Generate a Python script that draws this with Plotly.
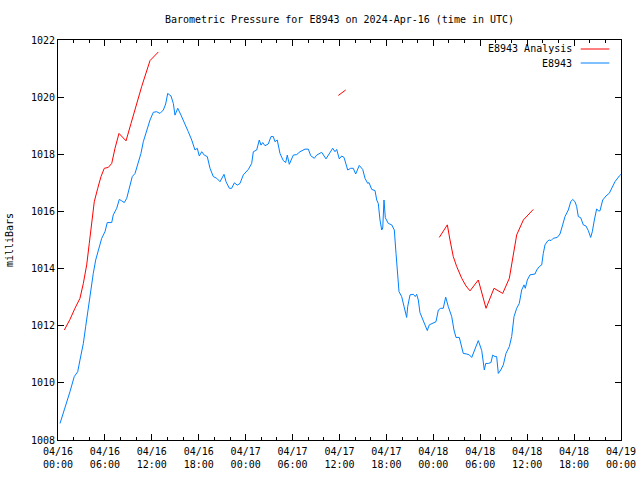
import pandas as pd
import plotly.graph_objects as go

BASE = pd.Timestamp("2024-04-16 00:00")

# E8943 observed pressure (hours since 2024-04-16 00:00 UTC, mbar)
obs_hours = [0.26, 0.90, 1.53, 2.08, 2.52, 2.81, 3.24, 3.54, 3.87, 4.18, 4.51, 4.82, 5.15, 5.59,
             6.01, 6.30, 6.87, 7.07, 7.51, 7.84, 8.15, 8.48, 8.79, 9.08, 9.50, 9.85, 10.27, 10.61,
             10.91, 11.34, 11.77, 12.19, 12.62, 13.04, 13.47, 13.77, 14.03, 14.45, 14.75, 14.96,
             15.31, 15.73, 16.24, 16.66, 17.10, 17.52, 17.81, 18.07, 18.38, 18.71, 19.09, 19.44,
             19.86, 20.30, 20.72, 21.23, 21.49, 21.91, 22.21, 22.55, 22.93, 23.28, 23.70, 24.34,
             24.77, 24.98, 25.41, 25.74, 25.96, 26.18, 26.47, 26.89, 27.24, 27.53, 27.75, 28.04,
             28.39, 28.81, 29.12, 29.32, 29.58, 29.89, 30.09, 30.53, 30.95, 31.59, 32.01, 32.32,
             32.78, 33.08, 33.72, 34.27, 34.79, 35.13, 35.42, 35.64, 35.97, 36.28, 36.58, 37.05,
             37.43, 37.76, 38.07, 38.53, 38.97, 39.26, 39.61, 39.77, 40.12, 40.54, 40.76, 40.96,
             41.18, 41.40, 41.53, 41.69, 41.86, 42.24, 42.68, 43.01, 43.23, 43.39, 43.61, 43.95,
             44.16, 44.38, 44.59, 44.72, 45.02, 45.44, 45.69, 45.87, 46.08, 46.29, 46.72, 47.02,
             47.23, 47.48, 47.99, 48.34, 48.64, 48.94, 49.27, 49.58, 49.91, 50.35, 50.64, 50.90,
             51.32, 51.83, 52.27, 52.60, 52.91, 53.33, 53.75, 54.19, 54.39, 54.52, 54.70, 55.03,
             55.37, 55.59, 55.89, 56.10, 56.31, 56.62, 56.95, 57.29, 57.72, 58.02, 58.32, 58.66,
             58.99, 59.30, 59.60, 59.76, 60.02, 60.36, 61.00, 61.22, 61.55, 61.86, 62.06, 62.28,
             62.63, 62.83, 63.05, 63.34, 63.85, 64.20, 64.54, 64.84, 65.26, 65.57, 65.82, 66.12,
             66.33, 66.54, 66.85, 67.18, 67.52, 67.82, 68.12, 68.33, 68.59, 68.89, 69.10, 69.31,
             69.66, 70.08, 70.51, 70.94, 71.23, 71.78, 72.00]
obs_mbar = [1008.58, 1009.11, 1009.69, 1010.22, 1010.39, 1010.80, 1011.38, 1011.97, 1012.67, 1013.25,
            1013.83, 1014.30, 1014.65, 1015.06, 1015.29, 1015.61, 1015.61, 1015.88, 1016.11, 1016.42,
            1016.37, 1016.31, 1016.46, 1016.75, 1017.22, 1017.33, 1017.74, 1018.03, 1018.44, 1018.85,
            1019.20, 1019.47, 1019.49, 1019.43, 1019.55, 1019.76, 1020.13, 1020.04, 1019.78, 1019.37,
            1019.61, 1019.37, 1019.08, 1018.79, 1018.50, 1018.15, 1018.21, 1017.94, 1018.09, 1017.97,
            1017.92, 1017.51, 1017.22, 1017.16, 1017.04, 1017.30, 1017.04, 1016.81, 1016.81, 1017.00,
            1016.92, 1016.98, 1017.28, 1017.47, 1017.68, 1018.09, 1018.15, 1018.50, 1018.32, 1018.41,
            1018.30, 1018.36, 1018.62, 1018.62, 1018.44, 1018.50, 1018.03, 1017.78, 1017.71, 1017.97,
            1017.65, 1017.86, 1017.97, 1017.99, 1018.09, 1018.18, 1018.18, 1017.95, 1017.86, 1017.97,
            1018.07, 1017.84, 1018.09, 1018.21, 1018.09, 1018.17, 1017.84, 1017.94, 1017.89, 1017.45,
            1017.51, 1017.51, 1017.31, 1017.61, 1017.47, 1017.16, 1016.98, 1017.01, 1016.77, 1016.73,
            1016.40, 1016.28, 1015.70, 1015.35, 1015.42, 1016.40, 1015.78, 1015.58, 1015.53, 1015.35,
            1014.53, 1013.83, 1013.19, 1013.02, 1012.78, 1012.43, 1012.29, 1012.67, 1013.08, 1013.10,
            1013.02, 1013.10, 1012.90, 1012.46, 1012.20, 1011.97, 1011.83, 1012.03, 1012.08, 1012.14,
            1012.55, 1012.61, 1012.61, 1013.00, 1012.67, 1012.32, 1011.85, 1011.59, 1011.59, 1011.03,
            1011.01, 1010.98, 1010.89, 1011.21, 1011.48, 1011.13, 1010.71, 1010.45, 1010.68, 1010.68,
            1010.71, 1010.97, 1010.92, 1010.92, 1010.33, 1010.45, 1010.63, 1011.03, 1011.27, 1011.62,
            1012.32, 1012.61, 1012.78, 1013.25, 1013.43, 1013.31, 1013.60, 1013.78, 1013.81, 1013.95,
            1014.07, 1014.13, 1014.53, 1014.83, 1014.97, 1015.00, 1014.98, 1015.06, 1015.09, 1015.21,
            1015.53, 1015.82, 1016.05, 1016.34, 1016.42, 1016.34, 1016.17, 1015.82, 1015.78, 1015.53,
            1015.49, 1015.33, 1015.09, 1015.29, 1015.70, 1016.09, 1016.02, 1016.02, 1016.40, 1016.54,
            1016.64, 1016.89, 1017.04, 1017.24, 1017.30]

# E8943 Analysis (None marks gaps between segments)
ana_hours = [0.81, 1.53, 2.17, 2.81, 3.24, 3.67, 4.00, 4.31, 4.64, 5.08, 5.50, 5.92, 6.43, 6.87,
             7.29, 7.80, 8.70, 9.34, 10.06, 10.70, 11.77, 12.83, None,
             35.85, 36.79, None,
             48.76, 49.79, 50.13, 50.55, 50.99, 51.63, 52.18, 52.69, 53.75, 54.74, 55.76, 56.87,
             57.72, 58.15, 58.66, 59.51, 60.27, 60.78]
ana_mbar = [1011.85, 1012.22, 1012.61, 1012.96, 1013.48, 1014.13, 1014.88, 1015.58, 1016.34, 1016.81,
            1017.22, 1017.51, 1017.54, 1017.68, 1018.21, 1018.73, 1018.47, 1019.08, 1019.78, 1020.37,
            1021.28, 1021.58, None,
            1020.06, 1020.25, None,
            1015.09, 1015.53, 1015.00, 1014.42, 1014.07, 1013.66, 1013.39, 1013.22, 1013.60, 1012.61,
            1013.31, 1013.13, 1013.66, 1014.42, 1015.18, 1015.70, 1015.93, 1016.07]

tick_hours = [0, 6, 12, 18, 24, 30, 36, 42, 48, 54, 60, 66, 72]
tick_labels = ["04/16<br>00:00", "04/16<br>06:00", "04/16<br>12:00", "04/16<br>18:00",
               "04/17<br>00:00", "04/17<br>06:00", "04/17<br>12:00", "04/17<br>18:00",
               "04/18<br>00:00", "04/18<br>06:00", "04/18<br>12:00", "04/18<br>18:00",
               "04/19<br>00:00"]
y_ticks = [1008, 1010, 1012, 1014, 1016, 1018, 1020, 1022]

series_names = ["E8943 Analysis", "E8943"]
series_colors = ["#ff0000", "#0080ff"]


def to_time(hours):
    return [None if h is None else BASE + pd.Timedelta(hours=h) for h in hours]


FONT = "DejaVu Sans Mono"

fig = go.Figure()
fig.add_trace(go.Scatter(x=to_time(ana_hours), y=ana_mbar, mode="lines",
                         name=series_names[0], connectgaps=False,
                         line=dict(color=series_colors[0], width=1)))
fig.add_trace(go.Scatter(x=to_time(obs_hours), y=obs_mbar, mode="lines",
                         name=series_names[1],
                         line=dict(color=series_colors[1], width=1)))

# gnuplot-style legend: text right-aligned, sample line to the right
legend_rows_y = [0.9775, 0.9425]
for name, color, yy in zip(series_names, series_colors, legend_rows_y):
    fig.add_annotation(xref="paper", yref="paper", x=0.9165, y=yy, text=name,
                       showarrow=False, xanchor="right", yanchor="middle",
                       font=dict(family=FONT, size=10, color="black"))
    fig.add_shape(type="line", xref="paper", yref="paper", x0=0.9284, x1=0.9792,
                  y0=yy, y1=yy, line=dict(color=color, width=1))

fig.update_layout(
    width=640, height=480,
    margin=dict(l=58, r=19, t=40, b=40, autoexpand=False),
    paper_bgcolor="white", plot_bgcolor="white",
    showlegend=False,
    font=dict(family=FONT, size=10, color="black"),
    title=dict(text="Barometric Pressure for E8943 on 2024-Apr-16 (time in UTC)",
               x=339.5 / 640, xanchor="center", y=1 - 19 / 480, yanchor="middle",
               font=dict(family=FONT, size=10, color="black")),
)
fig.update_xaxes(
    range=[BASE, BASE + pd.Timedelta(hours=72)],
    tickmode="array", tickvals=to_time(tick_hours), ticktext=tick_labels,
    ticks="inside", ticklen=6, tickcolor="black", tickwidth=1,
    showline=True, linecolor="black", linewidth=1, mirror="ticks",
    showgrid=False, zeroline=False, automargin=False, ticklabelstandoff=2,
    minor=dict(dtick=2 * 3600 * 1000, tick0=BASE, ticks="inside", ticklen=3,
               tickcolor="black", showgrid=False),
    tickfont=dict(family=FONT, size=10),
)
fig.update_yaxes(
    range=[1008, 1022],
    tickmode="array", tickvals=y_ticks, ticktext=[str(v) for v in y_ticks],
    ticks="inside", ticklen=6, tickcolor="black", tickwidth=1,
    showline=True, linecolor="black", linewidth=1, mirror="ticks",
    showgrid=False, zeroline=False, automargin=False,
    title=dict(text="milliBars", standoff=15, font=dict(family=FONT, size=10)),
    tickfont=dict(family=FONT, size=10),
)

fig.write_html("out.html", config={"displayModeBar": False},
               post_script="document.body.style.margin='0';document.body.style.overflow='hidden';")
